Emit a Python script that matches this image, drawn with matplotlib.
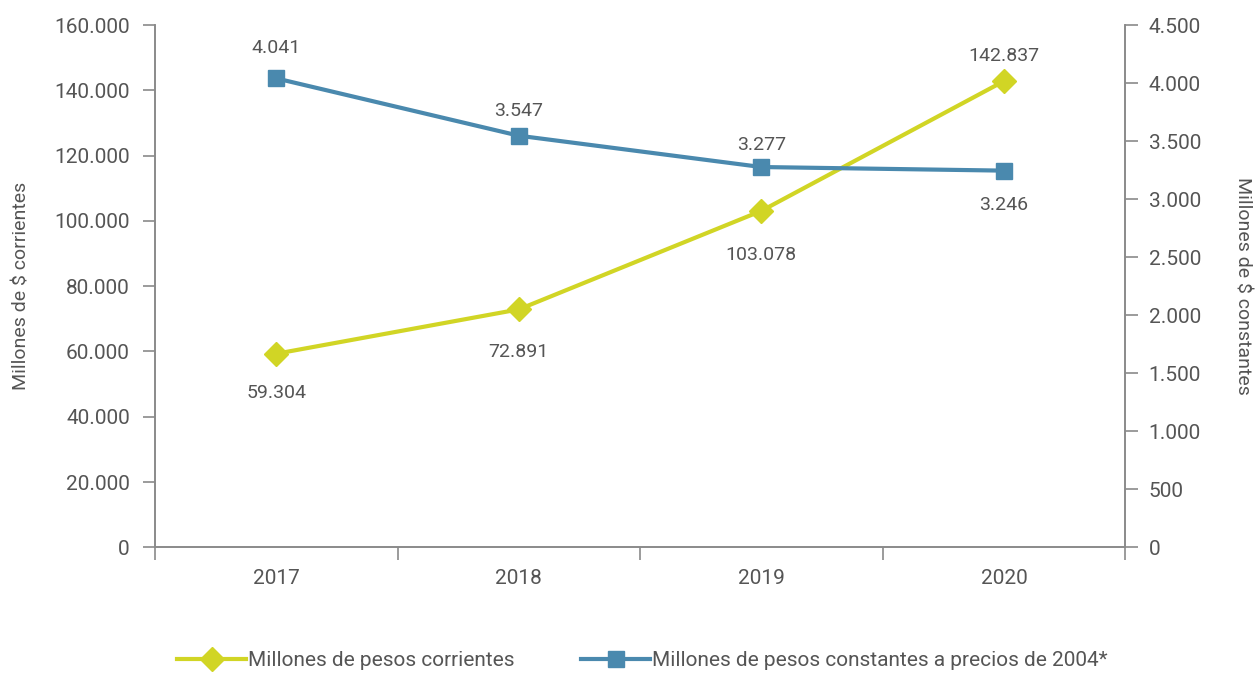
import matplotlib.pyplot as plt
from matplotlib.ticker import FuncFormatter

years = ["2017", "2018", "2019", "2020"]
corrientes = [59304, 72891, 103078, 142837]
constantes = [4041, 3547, 3277, 3246]

yellow = "#D1D525"
blue = "#4A89AE"
grey_text = "#555555"
grey_axis = "#8a8a8a"

plt.rcParams["font.family"] = ["Roboto", "DejaVu Sans"]


def miles(v, pos=None):
    return f"{int(round(v)):,}".replace(",", ".")


fig = plt.figure(figsize=(12.6, 6.79), dpi=100)
ax = fig.add_axes([0.123, 0.194, 0.77, 0.769])
ax2 = ax.twinx()

x = list(range(len(years)))
l1, = ax.plot(x, corrientes, color=yellow, lw=3, marker="D", ms=12,
              label="Millones de pesos corrientes", zorder=3)
l2, = ax2.plot(x, constantes, color=blue, lw=3, marker="s", ms=12,
               label="Millones de pesos constantes a precios de 2004*", zorder=3)

ax.set_xlim(-0.5, 3.5)
ax.set_ylim(0, 160000)
ax2.set_ylim(0, 4500)
ax.set_yticks(range(0, 160001, 20000))
ax2.set_yticks(range(0, 4501, 500))
ax.yaxis.set_major_formatter(FuncFormatter(miles))
ax2.yaxis.set_major_formatter(FuncFormatter(miles))

ax.set_xticks([i - 0.5 for i in range(5)])
ax.set_xticklabels([])
ax.set_xticks(x, minor=True)
ax.set_xticklabels(years, minor=True)
ax.tick_params(axis="x", which="minor", length=0, pad=16, labelsize=15, labelcolor=grey_text)
ax.tick_params(axis="x", which="major", length=9, color=grey_axis, width=1.2)
ax.tick_params(axis="y", length=9, color=grey_axis, width=1.2, labelsize=15,
               labelcolor=grey_text, pad=9)
ax2.tick_params(axis="y", length=9, color=grey_axis, width=1.2, labelsize=15,
                labelcolor=grey_text, pad=8)

for a in (ax, ax2):
    a.spines["top"].set_visible(False)
    for s in ("left", "right", "bottom"):
        a.spines[s].set_color(grey_axis)
        a.spines[s].set_linewidth(1.2)

ax.set_ylabel("Millones de $ corrientes", fontsize=14, color=grey_text, labelpad=17)
ax2.set_ylabel("Millones de $ constantes", fontsize=14, color=grey_text,
               rotation=-90, labelpad=36)

# value labels
yl_off = [-28, -31, -32, 18]
for i, v in enumerate(corrientes):
    ax.annotate(miles(v), (i, v), xytext=(0, yl_off[i]), textcoords="offset points",
                ha="center", va="center", fontsize=14, color=grey_text)
bl_off = [22, 18, 16, -25]
for i, v in enumerate(constantes):
    ax2.annotate(miles(v), (i, v), xytext=(0, bl_off[i]), textcoords="offset points",
                 ha="center", va="center", fontsize=14, color=grey_text)

fig.legend(handles=[l1, l2], loc="lower center", bbox_to_anchor=(0.51, -0.015),
           ncol=2, frameon=False, fontsize=15, labelcolor=grey_text,
           handlelength=3.3, handletextpad=0.1, columnspacing=3.2)

fig.savefig("out.png", dpi=100)
